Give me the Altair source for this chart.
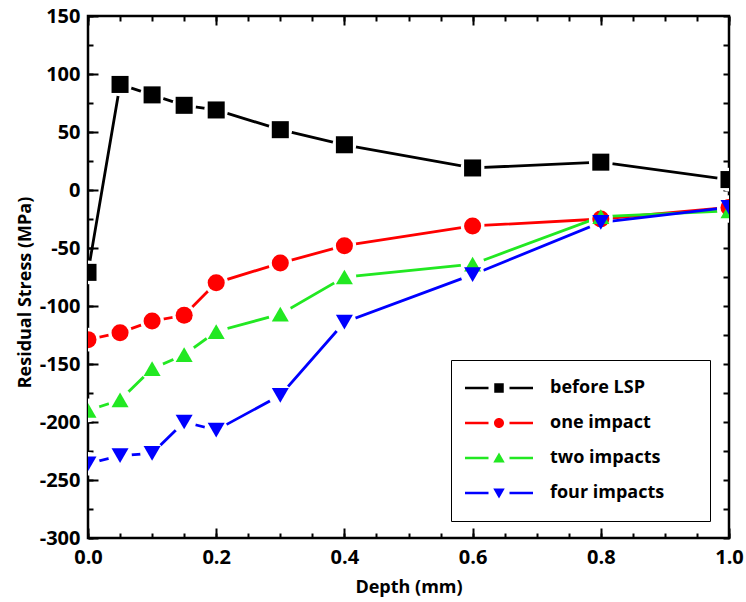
import altair as alt
import pandas as pd

depth = [0.0, 0.05, 0.1, 0.15, 0.2, 0.3, 0.4, 0.6, 0.8, 1.0]
series_names = ["before LSP", "one impact", "two impacts", "four impacts"]
before_lsp = [-71, 91, 82, 73, 69, 52, 39, 19, 24, 9]
one_impact = [-129, -123, -113, -108, -80, -63, -48, -31, -25, -15]
two_impacts = [-190, -181, -154, -142, -122, -107, -75, -64, -23, -18]
four_impacts = [-236, -229, -227, -200, -207, -177, -114, -73, -28, -15]
colors = ["#000000", "#ff0000", "#22e822", "#0000ff"]
shapes = ["square", "circle", "triangle-up", "triangle-down"]
x_major = [0.0, 0.2, 0.4, 0.6, 0.8, 1.0]
x_minor = [round(i * 0.05, 2) for i in range(21)]
y_major = list(range(-300, 151, 50))
y_minor = list(range(-300, 151, 25))

rows = []
for name, vals in zip(series_names, [before_lsp, one_impact, two_impacts, four_impacts]):
    for d, v in zip(depth, vals):
        rows.append({"Depth": d, "Stress": v, "Series": name})
df = pd.DataFrame(rows)

# legend symbols: line with gaps + marker (unit coords, scaled by sqrt(size)/2)
seg = "M-6.8,-0.26H-2.1V0.26H-6.8Z M2.1,-0.26H6.8V0.26H2.1Z "
legend_paths = [
    seg + "M-0.95,-0.95H0.95V0.95H-0.95Z",
    seg + "M-1,0A1,1 0 1,1 1,0A1,1 0 1,1 -1,0Z",
    seg + "M0,-1.1L1.15,0.9H-1.15Z",
    seg + "M0,1.1L-1.15,-0.9H1.15Z",
]

font = "Open Sans"
pad_chars = "\u2800" * 2

legend = alt.Legend(
    orient="none", legendX=363, legendY=344, title=None, direction="vertical",
    strokeColor="black", padding=19, symbolSize=100, symbolOffset=20,
    labelOffset=42, rowPadding=17, labelFont=font, labelFontSize=18,
    labelFontWeight="bold", labelColor="black", symbolStrokeWidth=0,
    symbolOpacity=1,
    labelExpr="datum.label + '" + pad_chars + "'",
    labelLimit=400,
)

def cscale():
    return alt.Scale(domain=series_names, range=colors)

xs = alt.Scale(domain=[0, 1], nice=False)
ys = alt.Scale(domain=[-300, 150], nice=False)
hyphen = "(datum.value < 0 ? '-' : '') + format(abs(datum.value), 'd')"

base = alt.Chart(df)

lines = base.mark_line(strokeWidth=2.8, clip=True).encode(
    x=alt.X("Depth:Q", scale=xs, title="Depth (mm)",
            axis=alt.Axis(orient="bottom", values=x_major, format=".1f", tickSize=10,
                          offset=-10, labelPadding=9, domain=False, grid=False,
                          labelFlush=False, tickColor="black", tickWidth=2,
                          titlePadding=11)),
    y=alt.Y("Stress:Q", scale=ys, title="Residual Stress (MPa)",
            axis=alt.Axis(orient="left", values=y_major, tickSize=10, offset=-10,
                          labelPadding=8, domain=False, grid=False, tickColor="black",
                          labelFlush=False, labelExpr=hyphen,
                          tickWidth=2, titlePadding=5, titleY=276)),
    color=alt.Color("Series:N", scale=cscale(), sort=series_names, legend=None),
    detail="Series:N",
)

halo = base.mark_point(filled=True, color="white", opacity=1, size=560, shape="circle",
                       clip=True).encode(
    x=alt.X("Depth:Q", scale=xs, title=None,
            axis=alt.Axis(orient="bottom", values=x_minor, tickSize=5, offset=-5,
                          labels=False, domain=False, grid=False, tickColor="black",
                          tickWidth=2)),
    y=alt.Y("Stress:Q", scale=ys, title=None,
            axis=alt.Axis(orient="left", values=y_minor, tickSize=5, offset=-5,
                          labels=False, domain=False, grid=False, tickColor="black",
                          tickWidth=2)),
)

points = base.mark_point(filled=True, opacity=1, size=290, clip=True).encode(
    x=alt.X("Depth:Q", scale=xs, title=None,
            axis=alt.Axis(orient="top", values=x_major, tickSize=9, offset=-9,
                          labels=False, domain=False, grid=False, tickColor="black",
                          tickWidth=2)),
    y=alt.Y("Stress:Q", scale=ys, title=None,
            axis=alt.Axis(orient="right", values=y_minor, tickSize=6, offset=-6,
                          labels=False, domain=False, grid=False, tickColor="black",
                          tickWidth=2)),
    color=alt.Color("Series:N", scale=cscale(), sort=series_names, legend=None),
    shape=alt.Shape("Series:N", scale=alt.Scale(domain=series_names, range=shapes),
                    legend=None),
)

legend_layer = base.mark_point(filled=True, opacity=0, size=100, clip=True).encode(
    x=alt.X("Depth:Q", scale=xs, title=None,
            axis=alt.Axis(orient="top", values=x_minor, tickSize=5, offset=-5,
                          labels=False, domain=False, grid=False, tickColor="black",
                          tickWidth=2)),
    y=alt.Y("Stress:Q", scale=ys, axis=None),
    color=alt.Color("Series:N", scale=cscale(), sort=series_names, legend=legend),
    shape=alt.Shape("Series:N", scale=alt.Scale(domain=series_names, range=legend_paths),
                    sort=series_names, legend=legend),
)

chart = alt.layer(lines, halo, points, legend_layer).resolve_scale(
    x="shared", y="shared", color="independent", shape="independent"
).resolve_axis(
    x="independent", y="independent"
).properties(
    width=641, height=522,
    autosize=alt.AutoSizeParams(type="none"),
    padding={"left": 88, "top": 16, "right": 17, "bottom": 64},
    background="white",
).configure_view(
    stroke="black", strokeWidth=2.5
).configure_axis(
    labelFont=font, labelFontSize=20, labelFontWeight="bold", labelColor="black",
    titleFont=font, titleFontSize=18, titleFontWeight="bold", titleColor="black",
)

chart.save("out.html", embed_options={"renderer": "svg", "actions": False})
